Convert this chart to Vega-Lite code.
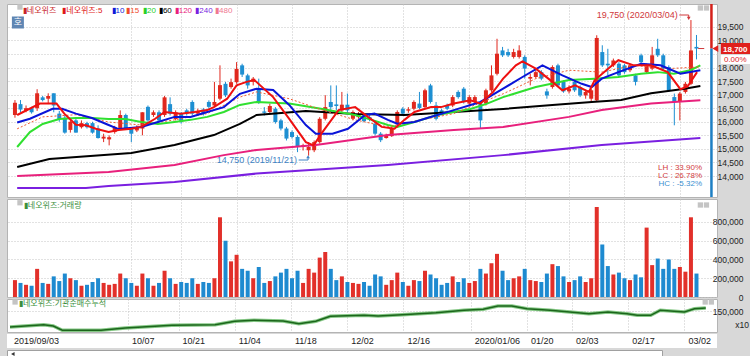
{
  "$schema": "https://vega.github.io/schema/vega-lite/v6.json",
  "background": "#d8d8d8",
  "padding": {"left": 2, "top": 2, "right": 0, "bottom": 0},
  "bounds": "flush",
  "spacing": 2,
  "config": {
    "view": {"fill": "white", "stroke": "#b4b4b4", "strokeWidth": 1},
    "axis": {"labelFont": "Liberation Sans", "labelFontSize": 9, "labelColor": "#222222", "domain": false, "ticks": false, "gridColor": "#c4c4c4", "gridDash": [1, 2]},
    "text": {"font": "Liberation Sans", "fontSize": 9}
  },
  "datasets": {
    "candles": [
      {"i":0,"o":16250,"h":16800,"l":16150,"c":16700,"v":180000},
      {"i":1,"o":16650,"h":16800,"l":16350,"c":16450,"v":150000},
      {"i":2,"o":16400,"h":16600,"l":16350,"c":16500,"v":130000},
      {"i":3,"o":16500,"h":16550,"l":16300,"c":16350,"v":120000},
      {"i":4,"o":16500,"h":17200,"l":16400,"c":17050,"v":300000},
      {"i":5,"o":16900,"h":16950,"l":16750,"c":16800,"v":150000},
      {"i":6,"o":16850,"h":17050,"l":16650,"c":16950,"v":140000},
      {"i":7,"o":17050,"h":17050,"l":16350,"c":16600,"v":220000},
      {"i":8,"o":16300,"h":16400,"l":16000,"c":16100,"v":170000},
      {"i":9,"o":16150,"h":16250,"l":15560,"c":15600,"v":250000},
      {"i":10,"o":15700,"h":16050,"l":15600,"c":16000,"v":200000},
      {"i":11,"o":16050,"h":16150,"l":15600,"c":15600,"v":180000},
      {"i":12,"o":15800,"h":16050,"l":15750,"c":15950,"v":120000},
      {"i":13,"o":15950,"h":16000,"l":15750,"c":15800,"v":130000},
      {"i":14,"o":15950,"h":16000,"l":15560,"c":15600,"v":160000},
      {"i":15,"o":15750,"h":15870,"l":15380,"c":15400,"v":200000},
      {"i":16,"o":15380,"h":15560,"l":15250,"c":15450,"v":150000},
      {"i":17,"o":15350,"h":15500,"l":15130,"c":15430,"v":130000},
      {"i":18,"o":15620,"h":15850,"l":15560,"c":15800,"v":140000},
      {"i":19,"o":15750,"h":16420,"l":15730,"c":16250,"v":250000},
      {"i":20,"o":16250,"h":16300,"l":15700,"c":15750,"v":200000},
      {"i":21,"o":15750,"h":15800,"l":15250,"c":15560,"v":150000},
      {"i":22,"o":15680,"h":15870,"l":15620,"c":15800,"v":120000},
      {"i":23,"o":15750,"h":16350,"l":15500,"c":16350,"v":250000},
      {"i":24,"o":16550,"h":16600,"l":16000,"c":16050,"v":200000},
      {"i":25,"o":16250,"h":16420,"l":16180,"c":16350,"v":120000},
      {"i":26,"o":16350,"h":16420,"l":16000,"c":16050,"v":150000},
      {"i":27,"o":16250,"h":16950,"l":16180,"c":16900,"v":280000},
      {"i":28,"o":16650,"h":16900,"l":16230,"c":16300,"v":200000},
      {"i":29,"o":16100,"h":16420,"l":16050,"c":16350,"v":140000},
      {"i":30,"o":16300,"h":16360,"l":15930,"c":16000,"v":160000},
      {"i":31,"o":16420,"h":16480,"l":16230,"c":16300,"v":150000},
      {"i":32,"o":16730,"h":16790,"l":16230,"c":16300,"v":200000},
      {"i":33,"o":16300,"h":16480,"l":16230,"c":16380,"v":140000},
      {"i":34,"o":16450,"h":16510,"l":16230,"c":16300,"v":160000},
      {"i":35,"o":16730,"h":16790,"l":16480,"c":16550,"v":150000},
      {"i":36,"o":16600,"h":17470,"l":16540,"c":16730,"v":200000},
      {"i":37,"o":16850,"h":18080,"l":16790,"c":17350,"v":850000},
      {"i":38,"o":17400,"h":17470,"l":16910,"c":16975,"v":600000},
      {"i":39,"o":17280,"h":17590,"l":17220,"c":17460,"v":380000},
      {"i":40,"o":17460,"h":18200,"l":17400,"c":17950,"v":450000},
      {"i":41,"o":18080,"h":18140,"l":17650,"c":17740,"v":300000},
      {"i":42,"o":17710,"h":17770,"l":17220,"c":17340,"v":280000},
      {"i":43,"o":17470,"h":17650,"l":17340,"c":17590,"v":200000},
      {"i":44,"o":17220,"h":17590,"l":16660,"c":16730,"v":320000},
      {"i":45,"o":16380,"h":16540,"l":16230,"c":16330,"v":150000},
      {"i":46,"o":16360,"h":16670,"l":16300,"c":16580,"v":170000},
      {"i":47,"o":16480,"h":16540,"l":15930,"c":15990,"v":220000},
      {"i":48,"o":16050,"h":16110,"l":15680,"c":15750,"v":260000},
      {"i":49,"o":15750,"h":15810,"l":15310,"c":15380,"v":300000},
      {"i":50,"o":15620,"h":15680,"l":15380,"c":15440,"v":200000},
      {"i":51,"o":15440,"h":15500,"l":14880,"c":15070,"v":280000},
      {"i":52,"o":15070,"h":15190,"l":14940,"c":15130,"v":150000},
      {"i":53,"o":14950,"h":15250,"l":14750,"c":15070,"v":300000},
      {"i":54,"o":14950,"h":15310,"l":14880,"c":15250,"v":260000},
      {"i":55,"o":15250,"h":16170,"l":15190,"c":16110,"v":420000},
      {"i":56,"o":16110,"h":16980,"l":16050,"c":16540,"v":480000},
      {"i":57,"o":16730,"h":17340,"l":16360,"c":16540,"v":300000},
      {"i":58,"o":16640,"h":17340,"l":16420,"c":16580,"v":180000},
      {"i":59,"o":16420,"h":17100,"l":16360,"c":16630,"v":220000},
      {"i":60,"o":16630,"h":17040,"l":16360,"c":16420,"v":160000},
      {"i":61,"o":16110,"h":16420,"l":16050,"c":16360,"v":150000},
      {"i":62,"o":16170,"h":16360,"l":16110,"c":16260,"v":140000},
      {"i":63,"o":16240,"h":16300,"l":15990,"c":16020,"v":160000},
      {"i":64,"o":16170,"h":16240,"l":16020,"c":16090,"v":120000},
      {"i":65,"o":15930,"h":16020,"l":15500,"c":15560,"v":240000},
      {"i":66,"o":15560,"h":15620,"l":15250,"c":15320,"v":220000},
      {"i":67,"o":15400,"h":15560,"l":15380,"c":15500,"v":130000},
      {"i":68,"o":15470,"h":15810,"l":15440,"c":15750,"v":180000},
      {"i":69,"o":15930,"h":16420,"l":15870,"c":16360,"v":260000},
      {"i":70,"o":16480,"h":16540,"l":16240,"c":16300,"v":160000},
      {"i":71,"o":16410,"h":16540,"l":16330,"c":16460,"v":120000},
      {"i":72,"o":16480,"h":16790,"l":16420,"c":16730,"v":180000},
      {"i":73,"o":16670,"h":17100,"l":16460,"c":16510,"v":170000},
      {"i":74,"o":16540,"h":17220,"l":16480,"c":17160,"v":280000},
      {"i":75,"o":17340,"h":17400,"l":16670,"c":16730,"v":240000},
      {"i":76,"o":16600,"h":16730,"l":16050,"c":16110,"v":200000},
      {"i":77,"o":16420,"h":16480,"l":16240,"c":16300,"v":130000},
      {"i":78,"o":16600,"h":16670,"l":16420,"c":16480,"v":150000},
      {"i":79,"o":16600,"h":16980,"l":16540,"c":16910,"v":220000},
      {"i":80,"o":17100,"h":17160,"l":16850,"c":16910,"v":160000},
      {"i":81,"o":17220,"h":17280,"l":16670,"c":16730,"v":200000},
      {"i":82,"o":16670,"h":16980,"l":16600,"c":16910,"v":150000},
      {"i":83,"o":16730,"h":16980,"l":16670,"c":16910,"v":170000},
      {"i":84,"o":16670,"h":16730,"l":15750,"c":16050,"v":300000},
      {"i":85,"o":16670,"h":17220,"l":16600,"c":17160,"v":250000},
      {"i":86,"o":17160,"h":18080,"l":17100,"c":17710,"v":360000},
      {"i":87,"o":17770,"h":19060,"l":17710,"c":18510,"v":460000},
      {"i":88,"o":18630,"h":18760,"l":18390,"c":18450,"v":280000},
      {"i":89,"o":18570,"h":18690,"l":18390,"c":18450,"v":180000},
      {"i":90,"o":18390,"h":18690,"l":18330,"c":18570,"v":200000},
      {"i":91,"o":18390,"h":18820,"l":18330,"c":18630,"v":220000},
      {"i":92,"o":18390,"h":18450,"l":17590,"c":17960,"v":300000},
      {"i":93,"o":17590,"h":17770,"l":17340,"c":17650,"v":180000},
      {"i":94,"o":17650,"h":17900,"l":17590,"c":17830,"v":170000},
      {"i":95,"o":17830,"h":17900,"l":17530,"c":17590,"v":160000},
      {"i":96,"o":17120,"h":17220,"l":16850,"c":16970,"v":250000},
      {"i":97,"o":17280,"h":18080,"l":17220,"c":18020,"v":350000},
      {"i":98,"o":18080,"h":18140,"l":17280,"c":17340,"v":330000},
      {"i":99,"o":17470,"h":17530,"l":17070,"c":17120,"v":220000},
      {"i":100,"o":17120,"h":17340,"l":17040,"c":17220,"v":160000},
      {"i":101,"o":17470,"h":17530,"l":17100,"c":17160,"v":180000},
      {"i":102,"o":17280,"h":17340,"l":16910,"c":16970,"v":220000},
      {"i":103,"o":16970,"h":17160,"l":16850,"c":17100,"v":160000},
      {"i":104,"o":16850,"h":17220,"l":16730,"c":17160,"v":200000},
      {"i":105,"o":16790,"h":19190,"l":16730,"c":19090,"v":960000},
      {"i":106,"o":18570,"h":18820,"l":18020,"c":18080,"v":560000},
      {"i":107,"o":18140,"h":18690,"l":17710,"c":18080,"v":330000},
      {"i":108,"o":18080,"h":18330,"l":18020,"c":18260,"v":240000},
      {"i":109,"o":18140,"h":18200,"l":17650,"c":17710,"v":260000},
      {"i":110,"o":18080,"h":18140,"l":17770,"c":17830,"v":200000},
      {"i":111,"o":17900,"h":18140,"l":17830,"c":18080,"v":180000},
      {"i":112,"o":17710,"h":17770,"l":17340,"c":17470,"v":240000},
      {"i":113,"o":18450,"h":18510,"l":18080,"c":18200,"v":210000},
      {"i":114,"o":17830,"h":18140,"l":17770,"c":18080,"v":740000},
      {"i":115,"o":17960,"h":18760,"l":17900,"c":18450,"v":340000},
      {"i":116,"o":18690,"h":19060,"l":18390,"c":18450,"v":410000},
      {"i":117,"o":18450,"h":18510,"l":17900,"c":17960,"v":300000},
      {"i":118,"o":18020,"h":18080,"l":17100,"c":17160,"v":400000},
      {"i":119,"o":16910,"h":17040,"l":15870,"c":16730,"v":300000},
      {"i":120,"o":16730,"h":17100,"l":16050,"c":17040,"v":320000},
      {"i":121,"o":17100,"h":17470,"l":17040,"c":17400,"v":270000},
      {"i":122,"o":17400,"h":19750,"l":17350,"c":18630,"v":850000},
      {"i":123,"o":18760,"h":19200,"l":18300,"c":18700,"v":250000}
    ],
    "ma5": [
      {"i":0.4,"v":16250},{"i":4.5,"v":16670},{"i":7.5,"v":16670},{"i":8.9,"v":16300},{"i":11,"v":15890},{"i":12.8,"v":15870},{"i":14.6,"v":15740},{"i":16.9,"v":15620},{"i":18.7,"v":15700},{"i":21,"v":15740},{"i":22.8,"v":15810},{"i":25.3,"v":16110},{"i":27,"v":16360},{"i":29.9,"v":16300},{"i":32.4,"v":16360},{"i":34.7,"v":16430},{"i":35.9,"v":16540},{"i":38.3,"v":16850},{"i":40,"v":17340},{"i":41.8,"v":17470},{"i":43.2,"v":17540},{"i":46.6,"v":16910},{"i":49.5,"v":16110},{"i":52.5,"v":15250},{"i":53.9,"v":15130},{"i":55.5,"v":15620},{"i":58.4,"v":16430},{"i":61.4,"v":16540},{"i":63.7,"v":16180},{"i":66.2,"v":15810},{"i":68.5,"v":15740},{"i":70.3,"v":16070},{"i":72.1,"v":16360},{"i":75.1,"v":16540},{"i":76.9,"v":16540},{"i":79.2,"v":16670},{"i":82.2,"v":16790},{"i":84,"v":16670},{"i":86.3,"v":17100},{"i":88.1,"v":17590},{"i":90.4,"v":18080},{"i":91.6,"v":18230},{"i":94,"v":17960},{"i":97,"v":17470},{"i":98.8,"v":17160},{"i":101.1,"v":17340},{"i":103.6,"v":17100},{"i":104.6,"v":17530},{"i":107.1,"v":17960},{"i":108.9,"v":18270},{"i":111.7,"v":18080},{"i":114.8,"v":18080},{"i":117.8,"v":17830},{"i":120.1,"v":17200},{"i":121.4,"v":17300},{"i":123.1,"v":17830}
    ],
    "ma10": [
      {"i":0.4,"v":15970},{"i":2.7,"v":16110},{"i":6.8,"v":16480},{"i":8.5,"v":16480},{"i":11,"v":16300},{"i":13.9,"v":16140},{"i":16.9,"v":15880},{"i":18.7,"v":15730},{"i":22.8,"v":15810},{"i":25.8,"v":15990},{"i":28.8,"v":16180},{"i":31.7,"v":16180},{"i":34.7,"v":16360},{"i":37.7,"v":16540},{"i":40.6,"v":17030},{"i":43.6,"v":17220},{"i":46.6,"v":17170},{"i":49.5,"v":16620},{"i":52.5,"v":15880},{"i":54.3,"v":15560},{"i":57.3,"v":15560},{"i":60.1,"v":15740},{"i":63.2,"v":16250},{"i":64.9,"v":16300},{"i":67.3,"v":16070},{"i":69,"v":15930},{"i":72.1,"v":15990},{"i":74.4,"v":16140},{"i":79.2,"v":16430},{"i":84,"v":16730},{"i":88.1,"v":17220},{"i":91.6,"v":17650},{"i":95.2,"v":18080},{"i":98.8,"v":17710},{"i":102.3,"v":17400},{"i":104.1,"v":17280},{"i":105.9,"v":17590},{"i":108.9,"v":17830},{"i":113,"v":18140},{"i":116.5,"v":18080},{"i":120.1,"v":17770},{"i":123.7,"v":17900}
    ],
    "ma15": [
      {"i":0.4,"v":15740},{"i":5,"v":16180},{"i":11,"v":16260},{"i":16.9,"v":15990},{"i":22.8,"v":15880},{"i":28.8,"v":16070},{"i":34.7,"v":16300},{"i":40.6,"v":16910},{"i":43.6,"v":17100},{"i":49.5,"v":16850},{"i":55.5,"v":16430},{"i":61.4,"v":16070},{"i":67.3,"v":15810},{"i":73.3,"v":16070},{"i":79.2,"v":16300},{"i":85.1,"v":16790},{"i":88.1,"v":17030},{"i":94,"v":17590},{"i":100,"v":17900},{"i":105.9,"v":17830},{"i":111.7,"v":18080},{"i":117.8,"v":17960},{"i":123.7,"v":18020}
    ],
    "ma20": [
      {"i":0.4,"v":15070},{"i":2.7,"v":15620},{"i":5,"v":15920},{"i":8,"v":16100},{"i":11,"v":16140},{"i":13.9,"v":16140},{"i":16.9,"v":16100},{"i":19.9,"v":16100},{"i":22.8,"v":15990},{"i":25.8,"v":15920},{"i":28.8,"v":15990},{"i":31.7,"v":16070},{"i":34.7,"v":16180},{"i":37.7,"v":16360},{"i":40.6,"v":16620},{"i":43.6,"v":16730},{"i":49.5,"v":16670},{"i":55.5,"v":16470},{"i":61.4,"v":16250},{"i":64.4,"v":16070},{"i":67.3,"v":15880},{"i":69,"v":15810},{"i":72.1,"v":15990},{"i":76.2,"v":16250},{"i":82.2,"v":16470},{"i":85.1,"v":16660},{"i":88.1,"v":16910},{"i":94,"v":17280},{"i":100,"v":17540},{"i":104.6,"v":17590},{"i":108.9,"v":17650},{"i":113,"v":17770},{"i":116,"v":17830},{"i":118.9,"v":17770},{"i":121.9,"v":17900},{"i":123.7,"v":18080}
    ],
    "ma60": [
      {"i":0.4,"v":14330},{"i":6.2,"v":14630},{"i":21,"v":14850},{"i":28.8,"v":15140},{"i":35.9,"v":15510},{"i":40.6,"v":15920},{"i":43.6,"v":16250},{"i":52.5,"v":16400},{"i":61.4,"v":16290},{"i":70.3,"v":16250},{"i":79.2,"v":16360},{"i":88.1,"v":16470},{"i":97,"v":16620},{"i":104.1,"v":16730},{"i":109.4,"v":16800},{"i":114.8,"v":17050},{"i":120.6,"v":17210},{"i":123.7,"v":17320}
    ],
    "ma120": [
      {"i":0.4,"v":14000},{"i":16.9,"v":14150},{"i":28.8,"v":14410},{"i":37.7,"v":14770},{"i":43.6,"v":14960},{"i":54.3,"v":15140},{"i":67.3,"v":15510},{"i":79.2,"v":15700},{"i":88.1,"v":15810},{"i":100,"v":16180},{"i":105.9,"v":16430},{"i":114.8,"v":16670},{"i":123.7,"v":16790}
    ],
    "ma240": [
      {"i":0.4,"v":13560},{"i":12.8,"v":13560},{"i":16.9,"v":13630},{"i":28.8,"v":13780},{"i":43.6,"v":14090},{"i":67.3,"v":14410},{"i":88.1,"v":14770},{"i":105.9,"v":15140},{"i":123.7,"v":15400}
    ],
    "inst": [
      {"i":0,"v":110000},{"i":6,"v":115750},{"i":7.7,"v":112500},{"i":9.3,"v":101750},{"i":16.2,"v":101750},{"i":20.5,"v":107500},{"i":28.8,"v":114250},{"i":36.5,"v":115750},{"i":40,"v":124250},{"i":43.4,"v":126750},{"i":48.6,"v":125000},{"i":51.4,"v":118250},{"i":54.4,"v":124250},{"i":57,"v":136750},{"i":63,"v":139250},{"i":65.5,"v":137500},{"i":69.8,"v":140750},{"i":75.8,"v":145750},{"i":80.8,"v":151750},{"i":84.2,"v":154250},{"i":86.8,"v":162500},{"i":89.3,"v":162500},{"i":92,"v":155750},{"i":96.1,"v":151750},{"i":99.6,"v":147500},{"i":103,"v":143250},{"i":106.4,"v":147500},{"i":109.8,"v":143250},{"i":111.6,"v":139250},{"i":114,"v":139250},{"i":115.7,"v":151750},{"i":120,"v":147500},{"i":121.8,"v":155750},{"i":123.8,"v":157500}
    ],
    "dates": [
      {"i":0,"t":"2019/09/03"},{"i":21,"t":"10/07"},{"i":30,"t":"10/21"},{"i":40,"t":"11/04"},{"i":50,"t":"11/18"},{"i":60,"t":"12/02"},{"i":70,"t":"12/16"},{"i":82,"t":"2020/01/06"},{"i":92,"t":"01/20"},{"i":100,"t":"02/03"},{"i":110,"t":"02/17"},{"i":120,"t":"03/02"}
    ]
  },
  "vconcat": [
    {
      "width": 710,
      "height": 193,
      "encoding": {
        "x": {"field": "i", "type": "quantitative", "title": null, "scale": {"domain": [-0.534, 125.8], "nice": false, "zero": false},
              "axis": {"values": [21,30,40,50,60,70,82,92,100,110,120], "labels": false, "grid": true}},
        "y": {"type": "quantitative", "title": null, "scale": {"domain": [13226, 20342], "nice": false, "zero": false},
              "axis": {"orient": "right", "values": [14000,14500,15000,15500,16000,16500,17000,17500,18000,18500,19000,19500], "labelExpr": "datum.value == 18500 ? '' : format(datum.value, ',')", "labelAlign": "right", "labelPadding": 26, "labelFontSize": 8.5, "grid": true}}
      },
      "layer": [
        {
          "data": {"name": "candles"},
          "mark": {"type": "rule", "strokeWidth": 1},
          "encoding": {
            "y": {"field": "l"},
            "y2": {"field": "h"},
            "color": {"condition": {"test": "datum.c >= datum.o", "value": "#e0281e"}, "value": "#1e8fd2"}
          }
        },
        {
          "data": {"name": "candles"},
          "mark": {"type": "bar", "width": 4},
          "encoding": {
            "y": {"field": "o"},
            "y2": {"field": "c"},
            "color": {"condition": {"test": "datum.c >= datum.o", "value": "#e0281e"}, "value": "#1e8fd2"}
          }
        },
        {"data": {"name": "ma240"}, "mark": {"type": "line", "color": "#7a1fe0", "strokeWidth": 2}, "encoding": {"y": {"field": "v"}}},
        {"data": {"name": "ma120"}, "mark": {"type": "line", "color": "#e8207c", "strokeWidth": 2}, "encoding": {"y": {"field": "v"}}},
        {"data": {"name": "ma60"}, "mark": {"type": "line", "color": "#000000", "strokeWidth": 2}, "encoding": {"y": {"field": "v"}}},
        {"data": {"name": "ma20"}, "mark": {"type": "line", "color": "#30e030", "strokeWidth": 2}, "encoding": {"y": {"field": "v"}}},
        {"data": {"name": "ma15"}, "mark": {"type": "line", "color": "#f05a30", "strokeWidth": 1, "strokeDash": [2, 2]}, "encoding": {"y": {"field": "v"}}},
        {"data": {"name": "ma10"}, "mark": {"type": "line", "color": "#0a14d8", "strokeWidth": 2}, "encoding": {"y": {"field": "v"}}},
        {"data": {"name": "ma5"}, "mark": {"type": "line", "color": "#ee1010", "strokeWidth": 2}, "encoding": {"y": {"field": "v"}}},
        {
          "data": {"values": [{"i": 123.3, "i2": 124.4, "p": 18700}, {"i": 119.9, "i2": 121.6, "p": 19936}, {"i": 51.2, "i2": 52.9, "p": 14590}]},
          "mark": {"type": "rule", "strokeWidth": 1},
          "encoding": {
            "x2": {"field": "i2"},
            "y": {"field": "p"},
            "color": {"condition": {"test": "datum.p < 16000", "value": "#3c82c4"}, "value": "#d0383a"}
          }
        },
        {
          "data": {"values": [{"i": 121.6, "p": 19936, "p2": 19830}, {"i": 52.9, "p": 14590, "p2": 14690}]},
          "mark": {"type": "rule", "strokeWidth": 1},
          "encoding": {
            "y": {"field": "p"}, "y2": {"field": "p2"},
            "color": {"condition": {"test": "datum.p < 16000", "value": "#3c82c4"}, "value": "#d0383a"}
          }
        },
        {
          "data": {"values": [{"i": 121.6, "p": 19810}]},
          "mark": {"type": "point", "shape": "triangle-down", "filled": true, "size": 14, "color": "#d0383a", "opacity": 1},
          "encoding": {"y": {"field": "p"}}
        },
        {
          "data": {"values": [{"i": 52.9, "p": 14710}]},
          "mark": {"type": "point", "shape": "triangle-up", "filled": true, "size": 14, "color": "#3c82c4", "opacity": 1},
          "encoding": {"y": {"field": "p"}}
        },
        {
          "data": {"values": [{"i": 119.8, "p": 19936, "t": "19,750 (2020/03/04)"}]},
          "mark": {"type": "text", "align": "right", "baseline": "middle", "color": "#d0383a", "fontSize": 9, "dx": -1},
          "encoding": {"y": {"field": "p"}, "text": {"field": "t"}}
        },
        {
          "data": {"values": [{"i": 51.1, "p": 14590, "t": "14,750 (2019/11/21)"}]},
          "mark": {"type": "text", "align": "right", "baseline": "middle", "color": "#3c82c4", "fontSize": 9, "dx": -1},
          "encoding": {"y": {"field": "p"}, "text": {"field": "t"}}
        },
        {
          "data": {"values": [{"i": 124.0, "p": 14295, "t": "LH : 33.90%"}, {"i": 124.0, "p": 14000, "t": "LC : 26.78%"}]},
          "mark": {"type": "text", "align": "right", "baseline": "middle", "color": "#d23c3c", "fontSize": 8},
          "encoding": {"y": {"field": "p"}, "text": {"field": "t"}}
        },
        {
          "data": {"values": [{"i": 124.0, "p": 13705, "t": "HC : -5.32%"}]},
          "mark": {"type": "text", "align": "right", "baseline": "middle", "color": "#3a8fd0", "fontSize": 8},
          "encoding": {"y": {"field": "p"}, "text": {"field": "t"}}
        },
        {
          "data": {"values": [
            {"i": 1.42, "p": 20102, "t": "▮네오위즈"},
            {"i": 8.54, "p": 20102, "t": "▮네오위즈:5"},
            {"i": 17.44, "p": 20102, "t": "▮10"},
            {"i": 20.1, "p": 20102, "t": "▮15"},
            {"i": 23.13, "p": 20102, "t": "▮20"},
            {"i": 25.98, "p": 20102, "t": "▮60"},
            {"i": 28.83, "p": 20102, "t": "▮120"},
            {"i": 32.56, "p": 20102, "t": "▮240"},
            {"i": 36.12, "p": 20102, "t": "▮480"}
          ]},
          "mark": {"type": "text", "align": "left", "baseline": "middle", "fontSize": 8, "font": "Liberation Sans, Noto Sans CJK KR"},
          "encoding": {
            "y": {"field": "p"},
            "text": {"field": "t"},
            "color": {"field": "t", "type": "nominal", "legend": null,
              "scale": {"domain": ["▮네오위즈", "▮네오위즈:5", "▮10", "▮15", "▮20", "▮60", "▮120", "▮240", "▮480"],
                        "range": ["#c8262a", "#e01818", "#1018d8", "#f04a2a", "#28d028", "#000000", "#e8207c", "#7a1fe0", "#f07890"]}}
          }
        },
        {
          "data": {"values": [{"i": 0.53, "p": 19660}]},
          "mark": {"type": "point", "shape": "square", "filled": true, "size": 144, "color": "#5f86b3", "opacity": 1},
          "encoding": {"y": {"field": "p"}}
        },
        {
          "data": {"values": [{"i": 0.53, "p": 19660, "t": "호"}]},
          "mark": {"type": "text", "align": "center", "baseline": "middle", "color": "white", "fontSize": 9, "font": "Noto Sans CJK KR"},
          "encoding": {"y": {"field": "p"}, "text": {"field": "t"}}
        },
        {
          "data": {"values": [{"i": 0.9, "p": 20230}, {"i": 123.7, "p": 20195}, {"i": 124.8, "p": 20195}]},
          "mark": {"type": "point", "shape": "square", "filled": true, "size": 28, "color": "#c4c4c4", "opacity": 1},
          "encoding": {"y": {"field": "p"}}
        },
        {
          "data": {"values": [{"i": 125.7, "p": 20342, "p2": 18700}]},
          "mark": {"type": "rule", "strokeWidth": 2.5, "color": "#d4201a"},
          "encoding": {"y": {"field": "p"}, "y2": {"field": "p2"}}
        },
        {
          "data": {"values": [{"i": 125.7, "p": 18700, "p2": 13226}]},
          "mark": {"type": "rule", "strokeWidth": 2.5, "color": "#1e7fc4"},
          "encoding": {"y": {"field": "p"}, "y2": {"field": "p2"}}
        },
        {
          "data": {"values": [{"i": 127.4, "i2": 132.8, "p": 18904, "p2": 18498}]},
          "mark": {"type": "rect", "color": "#e0201c"},
          "encoding": {"x2": {"field": "i2"}, "y": {"field": "p"}, "y2": {"field": "p2"}}
        },
        {
          "data": {"values": [{"i": 127.4, "i2": 132.8, "p": 18460, "p2": 18130}]},
          "mark": {"type": "rect", "color": "#ffffff"},
          "encoding": {"x2": {"field": "i2"}, "y": {"field": "p"}, "y2": {"field": "p2"}}
        },
        {
          "data": {"values": [{"i": 126.4, "p": 18700}]},
          "mark": {"type": "point", "shape": "triangle-left", "filled": true, "size": 45, "color": "#e0201c", "opacity": 1},
          "encoding": {"y": {"field": "p"}}
        },
        {
          "data": {"values": [{"i": 130.0, "p": 18650, "t": "18,700"}]},
          "mark": {"type": "text", "align": "center", "baseline": "middle", "color": "#ffffff", "fontSize": 8, "fontWeight": "bold"},
          "encoding": {"y": {"field": "p"}, "text": {"field": "t"}}
        },
        {
          "data": {"values": [{"i": 130.0, "p": 18295, "t": "0.00%"}]},
          "mark": {"type": "text", "align": "center", "baseline": "middle", "color": "#e0201c", "fontSize": 8},
          "encoding": {"y": {"field": "p"}, "text": {"field": "t"}}
        }
      ]
    },
    {
      "width": 710,
      "height": 98,
      "encoding": {
        "x": {"field": "i", "type": "quantitative", "title": null, "scale": {"domain": [-0.534, 125.8], "nice": false, "zero": false},
              "axis": {"values": [21,30,40,50,60,70,82,92,100,110,120], "labels": false, "grid": true}},
        "y": {"type": "quantitative", "title": null, "scale": {"domain": [0, 1045000], "nice": false},
              "axis": {"orient": "right", "values": [0, 200000, 400000, 600000, 800000], "labelExpr": "format(datum.value, ',')", "labelAlign": "right", "labelPadding": 26, "labelFontSize": 8.5, "grid": true}}
      },
      "layer": [
        {
          "data": {"name": "candles"},
          "mark": {"type": "bar", "width": 4},
          "encoding": {
            "y": {"field": "v"},
            "color": {"condition": {"test": "datum.c >= datum.o", "value": "#e2302a"}, "value": "#1e8ad0"}
          }
        },
        {
          "data": {"values": [{"i": 1.6, "v": 970000, "t": "▮네오위즈:거래량"}]},
          "mark": {"type": "text", "align": "left", "baseline": "middle", "color": "#3b8f3b", "fontSize": 8, "font": "Liberation Sans, Noto Sans CJK KR"},
          "encoding": {"y": {"field": "v"}, "text": {"field": "t"}}
        },
        {
          "data": {"values": [{"i": 0.9, "v": 1005000}, {"i": 123.7, "v": 981000}, {"i": 124.8, "v": 981000}]},
          "mark": {"type": "point", "shape": "square", "filled": true, "size": 28, "color": "#c4c4c4", "opacity": 1},
          "encoding": {"y": {"field": "v"}}
        }
      ]
    },
    {
      "width": 710,
      "height": 33,
      "encoding": {
        "x": {"field": "i", "type": "quantitative", "title": null, "scale": {"domain": [-0.534, 125.8], "nice": false, "zero": false},
              "axis": {"values": [21,30,40,50,60,70,82,92,100,110,120], "labels": false, "grid": true}},
        "y": {"type": "quantitative", "title": null, "scale": {"domain": [97500, 180000], "nice": false, "zero": false},
              "axis": {"orient": "right", "values": [150000], "labelExpr": "format(datum.value, ',')", "labelAlign": "right", "labelPadding": 26, "labelFontSize": 8.5, "grid": true}}
      },
      "layer": [
        {
          "data": {"name": "inst"},
          "mark": {"type": "line", "color": "#86c886", "strokeWidth": 3.5},
          "encoding": {"y": {"field": "v"}}
        },
        {
          "data": {"name": "inst"},
          "mark": {"type": "line", "color": "#1b661b", "strokeWidth": 1.5},
          "encoding": {"y": {"field": "v"}}
        },
        {
          "data": {"values": [{"i": 1.6, "v": 167500, "t": "▮네오위즈:기관순매수누적"}]},
          "mark": {"type": "text", "align": "left", "baseline": "middle", "color": "#3b8f3b", "fontSize": 8, "font": "Liberation Sans, Noto Sans CJK KR"},
          "encoding": {"y": {"field": "v"}, "text": {"field": "t"}}
        },
        {
          "data": {"values": [{"i": 0.9, "v": 172500}, {"i": 123.7, "v": 172500}, {"i": 124.8, "v": 172500}]},
          "mark": {"type": "point", "shape": "square", "filled": true, "size": 28, "color": "#c4c4c4", "opacity": 1},
          "encoding": {"y": {"field": "v"}}
        },
        {
          "data": {"values": [{"i": 131.5, "v": 115000, "t": "x10"}]},
          "mark": {"type": "text", "align": "right", "baseline": "middle", "color": "#222222", "fontSize": 8.5},
          "encoding": {"y": {"field": "v"}, "text": {"field": "t"}}
        }
      ]
    },
    {
      "width": 710,
      "height": 14,
      "view": {"stroke": null},
      "data": {"name": "dates"},
      "mark": {"type": "text", "align": "left", "baseline": "middle", "dx": 4, "color": "#222222", "fontSize": 9},
      "encoding": {
        "x": {"field": "i", "type": "quantitative", "scale": {"domain": [-0.534, 125.8], "nice": false, "zero": false}, "axis": null},
        "text": {"field": "t"}
      }
    },
    {
      "width": 655,
      "height": 8,
      "view": {"stroke": "#a0a0a0", "fill": "white"},
      "data": {"values": [{"i": 0.5}]},
      "mark": {"type": "point", "shape": "triangle-left", "filled": true, "size": 16, "color": "#333333", "opacity": 1},
      "encoding": {
        "x": {"field": "i", "type": "quantitative", "scale": {"domain": [-0.534, 116.0], "nice": false, "zero": false}, "axis": null}
      }
    }
  ]
}
